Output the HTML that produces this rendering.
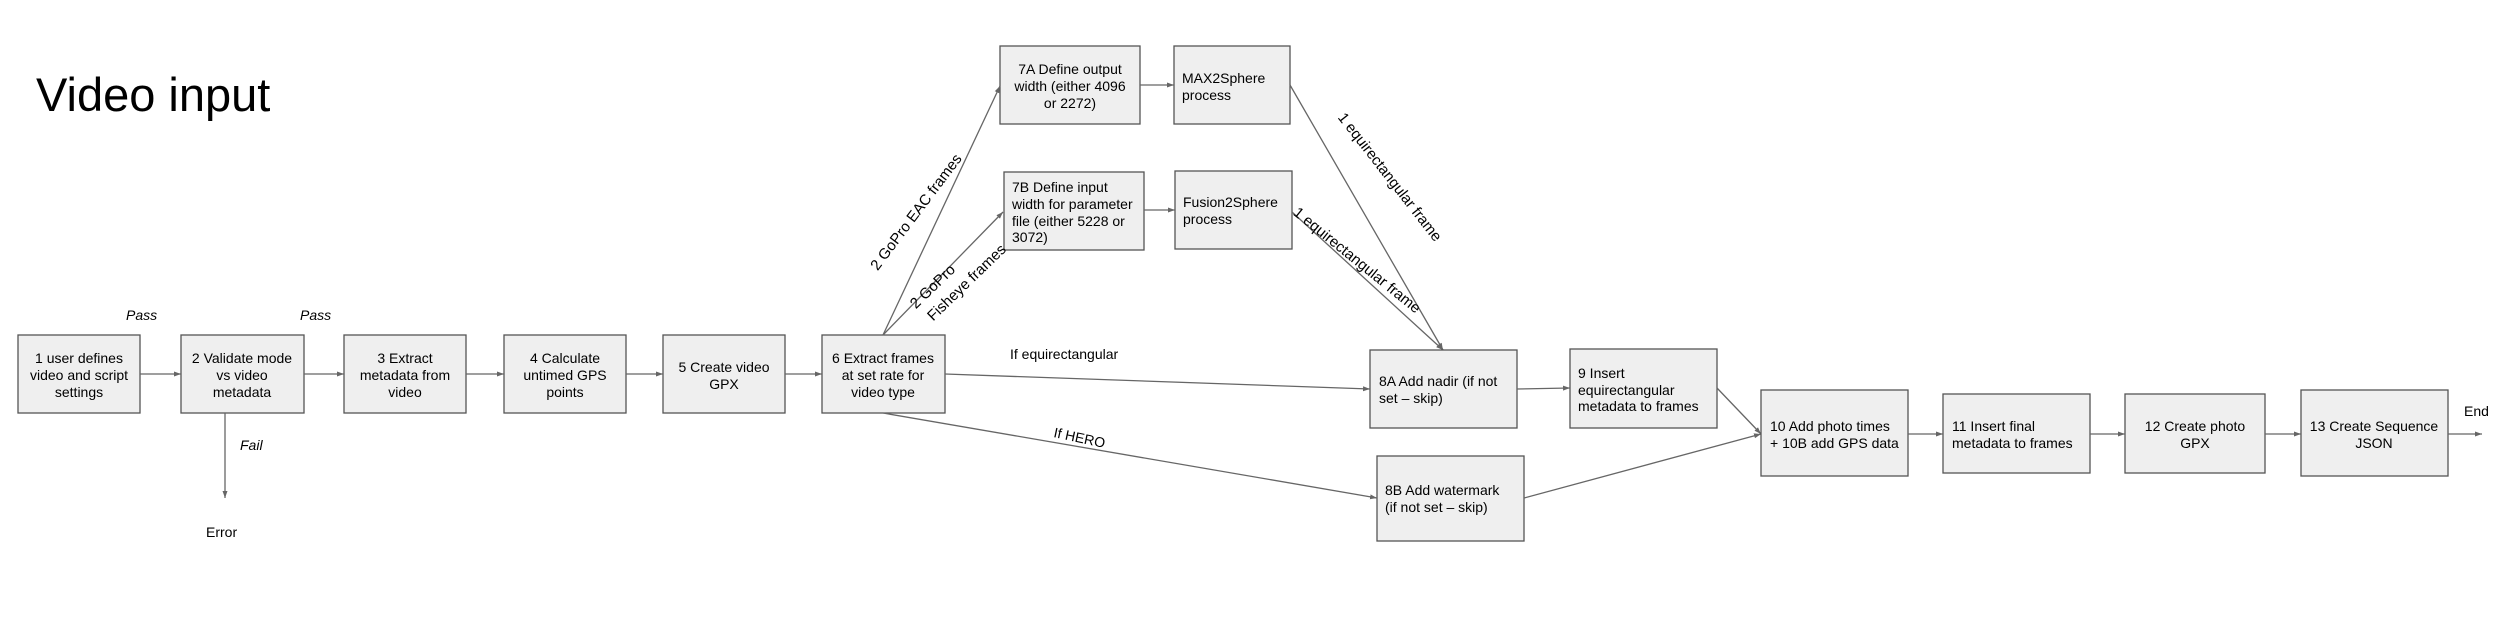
<!DOCTYPE html>
<html><head><meta charset="utf-8"><style>
html,body{margin:0;padding:0;background:#fff;}
svg{display:block;}
text{font-family:"Liberation Sans",Arial,sans-serif;fill:#000;}
.b{fill:#efefef;stroke:#555;stroke-width:1.3;}
.l{stroke:#666;stroke-width:1.3;fill:none;marker-end:url(#a);}
.t{font-size:14px;}
.r{font-size:15px;}
</style></head><body>
<svg width="2500" height="631" viewBox="0 0 2500 631" xmlns="http://www.w3.org/2000/svg">
<defs><marker id="a" markerWidth="8" markerHeight="8" refX="7" refY="4" orient="auto" markerUnits="userSpaceOnUse"><path d="M0,1.5 L7,4 L0,6.5 z" fill="#666"/></marker></defs>
<text x="36" y="111" style="font-size:47px">Video input</text>

<rect class="b" x="18" y="335" width="122" height="78"/>
<rect class="b" x="181" y="335" width="123" height="78"/>
<rect class="b" x="344" y="335" width="122" height="78"/>
<rect class="b" x="504" y="335" width="122" height="78"/>
<rect class="b" x="663" y="335" width="122" height="78"/>
<rect class="b" x="822" y="335" width="123" height="78"/>
<g class="t" text-anchor="middle">
<text x="79" y="363">1 user defines</text><text x="79" y="380">video and script</text><text x="79" y="397">settings</text>
<text x="242" y="363">2 Validate mode</text><text x="242" y="380">vs video</text><text x="242" y="397">metadata</text>
<text x="405" y="363">3 Extract</text><text x="405" y="380">metadata from</text><text x="405" y="397">video</text>
<text x="565" y="363">4 Calculate</text><text x="565" y="380">untimed GPS</text><text x="565" y="397">points</text>
<text x="724" y="372">5 Create video</text><text x="724" y="389">GPX</text>
<text x="883" y="363">6 Extract frames</text><text x="883" y="380">at set rate for</text><text x="883" y="397">video type</text>
</g>
<text class="t" x="126" y="320" font-style="italic">Pass</text>
<text class="t" x="300" y="320" font-style="italic">Pass</text>
<text class="t" x="240" y="450" font-style="italic">Fail</text>
<text class="t" x="206" y="537">Error</text>

<path class="l" d="M140,374 L181,374"/>
<path class="l" d="M304,374 L344,374"/>
<path class="l" d="M466,374 L504,374"/>
<path class="l" d="M626,374 L663,374"/>
<path class="l" d="M785,374 L822,374"/>
<path class="l" d="M225,413 L225,498"/>

<rect class="b" x="1000" y="46" width="140" height="78"/>
<rect class="b" x="1174" y="46" width="116" height="78"/>
<rect class="b" x="1004" y="172" width="140" height="78"/>
<rect class="b" x="1175" y="171" width="117" height="78"/>
<g class="t" text-anchor="middle">
<text x="1070" y="74">7A Define output</text><text x="1070" y="91">width (either 4096</text><text x="1070" y="108">or 2272)</text>
</g>
<text class="t" x="1182" y="83">MAX2Sphere</text><text class="t" x="1182" y="100">process</text>
<text class="t" x="1012" y="192">7B Define input</text><text class="t" x="1012" y="209">width for parameter</text><text class="t" x="1012" y="226">file (either 5228 or</text><text class="t" x="1012" y="242">3072)</text>
<text class="t" x="1183" y="207">Fusion2Sphere</text><text class="t" x="1183" y="224">process</text>

<path class="l" d="M883,335 L1000,86"/>
<path class="l" d="M883,335 L1003,212"/>
<path class="l" d="M1140,85 L1174,85"/>
<path class="l" d="M1144,210 L1175,210"/>
<path class="l" d="M1290,85 L1443,350"/>
<path class="l" d="M1292,212 L1443,350"/>
<text class="r" text-anchor="middle" transform="translate(920,215) rotate(-53)">2 GoPro EAC frames</text>
<text class="r" text-anchor="middle" transform="translate(936,290) rotate(-44)">2 GoPro</text>
<text class="r" text-anchor="middle" transform="translate(970,286) rotate(-44)">Fisheye frames</text>
<text class="r" text-anchor="middle" transform="translate(1386,180) rotate(52)">1 equirectangular frame</text>
<text class="r" text-anchor="middle" transform="translate(1354,264) rotate(39)">1 equirectangular frame</text>

<rect class="b" x="1370" y="350" width="147" height="78"/>
<rect class="b" x="1570" y="349" width="147" height="79"/>
<rect class="b" x="1377" y="456" width="147" height="85"/>
<text class="t" x="1379" y="386">8A Add nadir (if not</text><text class="t" x="1379" y="403">set – skip)</text>
<text class="t" x="1578" y="378">9 Insert</text><text class="t" x="1578" y="395">equirectangular</text><text class="t" x="1578" y="411">metadata to frames</text>
<text class="t" x="1385" y="495">8B Add watermark</text><text class="t" x="1385" y="512">(if not set – skip)</text>
<text class="t" x="1010" y="359">If equirectangular</text>
<text class="t" transform="translate(1053,437) rotate(12)">If HERO</text>

<path class="l" d="M945,374 L1370,389"/>
<path class="l" d="M883,413 L1377,498"/>
<path class="l" d="M1517,389 L1570,388"/>
<path class="l" d="M1717,388 L1761,434"/>
<path class="l" d="M1524,498 L1761,434"/>

<rect class="b" x="1761" y="390" width="147" height="86"/>
<rect class="b" x="1943" y="394" width="147" height="79"/>
<rect class="b" x="2125" y="394" width="140" height="79"/>
<rect class="b" x="2301" y="390" width="147" height="86"/>
<text class="t" x="1770" y="431">10 Add photo times</text><text class="t" x="1770" y="448">+ 10B add GPS data</text>
<text class="t" x="1952" y="431">11 Insert final</text><text class="t" x="1952" y="448">metadata to frames</text>
<text class="t" x="2195" y="431" text-anchor="middle">12 Create photo</text><text class="t" x="2195" y="448" text-anchor="middle">GPX</text>
<text class="t" x="2374" y="431" text-anchor="middle">13 Create Sequence</text><text class="t" x="2374" y="448" text-anchor="middle">JSON</text>
<text class="t" x="2464" y="416">End</text>
<path class="l" d="M1908,434 L1943,434"/>
<path class="l" d="M2090,434 L2125,434"/>
<path class="l" d="M2265,434 L2301,434"/>
<path class="l" d="M2448,434 L2482,434"/>
</svg>
</body></html>
